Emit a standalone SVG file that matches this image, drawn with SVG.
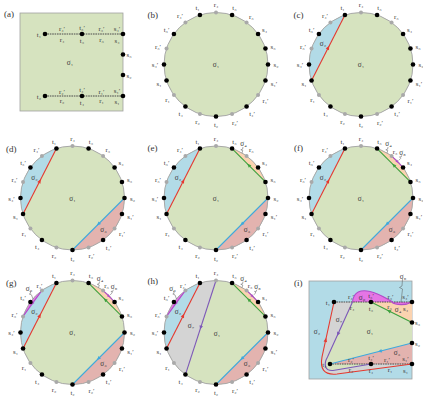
<svg xmlns="http://www.w3.org/2000/svg" xmlns:xlink="http://www.w3.org/1999/xlink" width="423" height="399" viewBox="0 0 423 399">
<style>
text{font-family:"Liberation Serif","DejaVu Serif",serif;fill:#3a3a3a}
.lb{font-size:6.8px;text-anchor:middle;dominant-baseline:central}
.sg{font-size:7.3px;text-anchor:middle;dominant-baseline:central}
.pl{font-size:9px;fill:#333}
.disk{fill:#d6e3bf;stroke:none}
.ring{fill:none;stroke:#a8a8a8;stroke-width:1}
.b{fill:#b2dbe7}.p{fill:#e3b3af}.o{fill:#fbd3b0}.m{fill:#e575e5}.g{fill:#d4d4d4}
.bk{fill:#000}.gr{fill:#a9a9a9}
.cr,.cb,.cg,.cp,.cm{fill:none;stroke-width:1.1}
.cr{stroke:#e5392f}.cb{stroke:#3fa9dc}.cg{stroke:#3ea13e}.cp{stroke:#7d58b8}.cm{stroke:#b04cc8}
.ar{fill:#e5392f}.ab{fill:#3fa9dc}.ag{fill:#3ea13e}.ap{fill:#7d58b8}.am{fill:#b04cc8}
.zz{fill:none;stroke:#555;stroke-width:0.5}
.slit{stroke:#4a4a4a;stroke-width:1;stroke-dasharray:1.6 0.8}
.frame{stroke:#a0a0a0;stroke-width:0.8}
</style>
<defs>
<path id="ah" d="M2.2,0 L-1.8,-1.8 L-1.8,1.8 Z"/>
<g id="dots">
<circle class="gr" cx="0" cy="-52" r="2"/>
<circle class="bk" cx="16.07" cy="-49.46" r="2.3"/>
<circle class="gr" cx="30.57" cy="-42.07" r="2"/>
<circle class="bk" cx="42.07" cy="-30.57" r="2.3"/>
<circle class="bk" cx="49.46" cy="-16.07" r="2.3"/>
<circle class="bk" cx="52" cy="0" r="2.3"/>
<circle class="bk" cx="49.46" cy="16.07" r="2.3"/>
<circle class="gr" cx="42.07" cy="30.57" r="2"/>
<circle class="bk" cx="30.57" cy="42.07" r="2.3"/>
<circle class="gr" cx="16.07" cy="49.46" r="2"/>
<circle class="bk" cx="0" cy="52" r="2.3"/>
<circle class="gr" cx="-16.07" cy="49.46" r="2"/>
<circle class="bk" cx="-30.57" cy="42.07" r="2.3"/>
<circle class="gr" cx="-42.07" cy="30.57" r="2"/>
<circle class="bk" cx="-49.46" cy="16.07" r="2.3"/>
<circle class="bk" cx="-52" cy="0" r="2.3"/>
<circle class="gr" cx="-49.46" cy="-16.07" r="2"/>
<circle class="bk" cx="-42.07" cy="-30.57" r="2.3"/>
<circle class="gr" cx="-30.57" cy="-42.07" r="2"/>
<circle class="bk" cx="-16.07" cy="-49.46" r="2.3"/>
</g>
</defs>
<rect width="423" height="399" fill="#fff"/>

<g id="panel-labels">
<text class="pl" x="4" y="17">(a)</text>
<text class="pl" x="147.5" y="18">(b)</text>
<text class="pl" x="293.5" y="18">(c)</text>
<text class="pl" x="6" y="152">(d)</text>
<text class="pl" x="147.5" y="151">(e)</text>
<text class="pl" x="294" y="151">(f)</text>
<text class="pl" x="6" y="286">(g)</text>
<text class="pl" x="147.5" y="284">(h)</text>
<text class="pl" x="294" y="286">(i)</text>
</g>

<g id="panel-a">
<rect x="20" y="13" width="103" height="98" fill="#d6e3bf" class="frame"/>
<g id="slits-a">
<line class="slit" x1="45" y1="34" x2="123" y2="34"/>
<line class="slit" x1="45" y1="96" x2="123" y2="96"/>
</g>
<circle class="bk" cx="45" cy="34" r="2.3"/><circle class="bk" cx="82" cy="34" r="2.3"/><circle class="bk" cx="123" cy="34" r="2.3"/>
<circle class="bk" cx="123" cy="54.5" r="2.3"/><circle class="bk" cx="123" cy="75" r="2.3"/>
<circle class="bk" cx="45" cy="96" r="2.3"/><circle class="bk" cx="82" cy="96" r="2.3"/><circle class="bk" cx="123" cy="96" r="2.3"/>
<text class="lb" x="39" y="34.5">t₁</text>
<text class="lb" x="62" y="28.5">r₄′</text><text class="lb" x="82" y="27.5">t₃′</text><text class="lb" x="101.5" y="28.5">r₃′</text><text class="lb" x="117" y="28">s₄′</text>
<text class="lb" x="62" y="39">r₄</text><text class="lb" x="82" y="40.5">t₃</text><text class="lb" x="101.5" y="39">r₃</text><text class="lb" x="117" y="40.5">s₄</text>
<text class="lb" x="129" y="54.5">s₃</text><text class="lb" x="129" y="75">s₂</text>
<text class="sg" x="70" y="62.5">σ₁</text>
<text class="lb" x="39" y="96.5">t₂</text>
<text class="lb" x="62" y="91">r₂′</text><text class="lb" x="82" y="89.5">t₄′</text><text class="lb" x="101.5" y="91">r₁′</text><text class="lb" x="117" y="90">s₁′</text>
<text class="lb" x="62" y="100.5">r₂</text><text class="lb" x="82" y="102">t₄</text><text class="lb" x="101.5" y="100.5">r₁</text><text class="lb" x="117" y="101.5">s₁</text>
</g>

<g id="panel-b" transform="translate(216,64.5)">
<circle class="disk" r="52"/><circle class="ring" r="52"/>
<use href="#dots"/>
<text class="lb" x="0" y="-60">r₄</text><text class="lb" x="18.5" y="-57">t₃</text><text class="lb" x="35.3" y="-48.5">r₃</text><text class="lb" x="48.5" y="-35.3">s₄</text><text class="lb" x="57" y="-18.5">s₃</text><text class="lb" x="60" y="0">s₂</text><text class="lb" x="58" y="18.5">s₁′</text><text class="lb" x="49.5" y="35.5">r₁′</text><text class="lb" x="36" y="49">t₄′</text><text class="lb" x="19" y="57.5">r₂′</text><text class="lb" x="0" y="60">t₂</text><text class="lb" x="-18.5" y="57">r₂</text><text class="lb" x="-35.3" y="48.5">t₄</text><text class="lb" x="-48.5" y="35.3">r₁</text><text class="lb" x="-57" y="18.5">s₁</text><text class="lb" x="-61" y="0">s₄′</text><text class="lb" x="-58" y="-18.5">r₃′</text><text class="lb" x="-49.5" y="-35.5">t₃′</text><text class="lb" x="-36" y="-49">r₄′</text><text class="lb" x="-18.5" y="-57">t₁</text>
<text class="sg" x="0" y="0">σ₁</text>
</g>

<g id="panel-c" transform="translate(361,64.5)">
<circle class="disk" r="52"/>
<path class="b" d="M-16.07,-49.46 A52,52 0 0 0 -49.46,16.07 Z"/>
<circle class="ring" r="52"/>
<g id="conn-c"><path class="cr" d="M-16.07,-49.46 L-49.46,16.07"/><use href="#ah" class="ar" transform="translate(-32.8,-16.7) rotate(-63)"/></g>
<use href="#dots"/>
<text class="lb" x="0" y="-60">r₄</text><text class="lb" x="18.5" y="-57">t₃</text><text class="lb" x="35.3" y="-48.5">r₃</text><text class="lb" x="48.5" y="-35.3">s₄</text><text class="lb" x="57" y="-18.5">s₃</text><text class="lb" x="60" y="0">s₂</text><text class="lb" x="58" y="18.5">s₁′</text><text class="lb" x="49.5" y="35.5">r₁′</text><text class="lb" x="36" y="49">t₄′</text><text class="lb" x="19" y="57.5">r₂′</text><text class="lb" x="0" y="60">t₂</text><text class="lb" x="-18.5" y="57">r₂</text><text class="lb" x="-35.3" y="48.5">t₄</text><text class="lb" x="-48.5" y="35.3">r₁</text><text class="lb" x="-57" y="18.5">s₁</text><text class="lb" x="-61" y="0">s₄′</text><text class="lb" x="-58" y="-18.5">r₃′</text><text class="lb" x="-49.5" y="-35.5">t₃′</text><text class="lb" x="-36" y="-49">r₄′</text><text class="lb" x="-18.5" y="-57">t₁</text>
<text class="sg" x="0" y="0">σ₁</text><text class="sg" x="-38" y="-21">σ₂</text>
</g>

<g id="panel-d" transform="translate(72.5,198)">
<circle class="disk" r="52"/>
<path class="b" d="M-16.07,-49.46 A52,52 0 0 0 -49.46,16.07 Z"/>
<path class="p" d="M52,0 A52,52 0 0 1 0,52 Z"/>
<circle class="ring" r="52"/>
<g id="conn-d">
<path class="cr" d="M-16.07,-49.46 L-49.46,16.07"/><use href="#ah" class="ar" transform="translate(-32.8,-16.7) rotate(-63)"/>
<path class="cb" d="M52,0 L0,52"/><use href="#ah" class="ab" transform="translate(26,26) rotate(135)"/>
</g>
<use href="#dots"/>
<text class="lb" x="0" y="-60">r₄</text><text class="lb" x="18.5" y="-57">t₃</text><text class="lb" x="35.3" y="-48.5">r₃</text><text class="lb" x="48.5" y="-35.3">s₄</text><text class="lb" x="57" y="-18.5">s₃</text><text class="lb" x="60" y="0">s₂</text><text class="lb" x="58" y="18.5">s₁′</text><text class="lb" x="49.5" y="35.5">r₁′</text><text class="lb" x="36" y="49">t₄′</text><text class="lb" x="19" y="57.5">r₂′</text><text class="lb" x="0" y="60">t₂</text><text class="lb" x="-18.5" y="57">r₂</text><text class="lb" x="-35.3" y="48.5">t₄</text><text class="lb" x="-48.5" y="35.3">r₁</text><text class="lb" x="-57" y="18.5">s₁</text><text class="lb" x="-61" y="0">s₄′</text><text class="lb" x="-58" y="-18.5">r₃′</text><text class="lb" x="-49.5" y="-35.5">t₃′</text><text class="lb" x="-36" y="-49">r₄′</text><text class="lb" x="-18.5" y="-57">t₁</text>
<text class="sg" x="0" y="0">σ₁</text><text class="sg" x="-38" y="-21">σ₂</text><text class="sg" x="31" y="31">σ₃</text>
</g>

<g id="panel-e" transform="translate(216,198)">
<circle class="disk" r="52"/>
<path class="b" d="M-16.07,-49.46 A52,52 0 0 0 -49.46,16.07 Z"/>
<path class="p" d="M52,0 A52,52 0 0 1 0,52 Z"/>
<path class="o" d="M16.07,-49.46 A52,52 0 0 1 49.46,-16.07 Z"/>
<circle class="ring" r="52"/>
<g id="conn-e">
<path class="cr" d="M-16.07,-49.46 L-49.46,16.07"/><use href="#ah" class="ar" transform="translate(-32.8,-16.7) rotate(-63)"/>
<path class="cb" d="M52,0 L0,52"/><use href="#ah" class="ab" transform="translate(26,26) rotate(135)"/>
<path class="cg" d="M16.07,-49.46 L49.46,-16.07"/><use href="#ah" class="ag" transform="translate(32.8,-32.8) rotate(-135)"/>
</g>
<use href="#dots"/>
<text class="lb" x="0" y="-60">r₄</text><text class="lb" x="18.5" y="-57">t₃</text><text class="lb" x="35.3" y="-48.5">r₃</text><text class="lb" x="48.5" y="-35.3">s₄</text><text class="lb" x="57" y="-18.5">s₃</text><text class="lb" x="60" y="0">s₂</text><text class="lb" x="58" y="18.5">s₁′</text><text class="lb" x="49.5" y="35.5">r₁′</text><text class="lb" x="36" y="49">t₄′</text><text class="lb" x="19" y="57.5">r₂′</text><text class="lb" x="0" y="60">t₂</text><text class="lb" x="-18.5" y="57">r₂</text><text class="lb" x="-35.3" y="48.5">t₄</text><text class="lb" x="-48.5" y="35.3">r₁</text><text class="lb" x="-57" y="18.5">s₁</text><text class="lb" x="-61" y="0">s₄′</text><text class="lb" x="-58" y="-18.5">r₃′</text><text class="lb" x="-49.5" y="-35.5">t₃′</text><text class="lb" x="-36" y="-49">r₄′</text><text class="lb" x="-18.5" y="-57">t₁</text>
<text class="sg" x="0" y="0">σ₁</text><text class="sg" x="-38" y="-21">σ₂</text><text class="sg" x="31" y="31">σ₃</text>
<text class="sg" x="27.5" y="-54.5">σ₄</text><path class="zz" d="M27,-51 L26.6,-48.8 L24.8,-48.2 L26.8,-47.4 L26,-45"/>
</g>

<g id="panel-f" transform="translate(361,198)">
<circle class="disk" r="52"/>
<path class="b" d="M-16.07,-49.46 A52,52 0 0 0 -49.46,16.07 Z"/>
<path class="p" d="M52,0 A52,52 0 0 1 0,52 Z"/>
<path class="o" d="M16.07,-49.46 A52,52 0 0 1 49.46,-16.07 Z"/>
<path class="m" d="M30.57,-42.07 A52,52 0 0 1 42.07,-30.57 Z"/>
<circle class="ring" r="52"/>
<g id="conn-f">
<path class="cr" d="M-16.07,-49.46 L-49.46,16.07"/><use href="#ah" class="ar" transform="translate(-32.8,-16.7) rotate(-63)"/>
<path class="cb" d="M52,0 L0,52"/><use href="#ah" class="ab" transform="translate(26,26) rotate(135)"/>
<path class="cg" d="M16.07,-49.46 L49.46,-16.07"/><use href="#ah" class="ag" transform="translate(32.8,-32.8) rotate(-135)"/>
<path class="cm" d="M30.57,-42.07 L42.07,-30.57"/><use href="#ah" class="am" transform="translate(36.3,-36.3) rotate(45) scale(0.75)"/>
</g>
<use href="#dots"/>
<text class="lb" x="0" y="-60">r₄</text><text class="lb" x="18.5" y="-57">t₃</text><text class="lb" x="34" y="-47">r₃</text><text class="lb" x="48.5" y="-35.3">s₄</text><text class="lb" x="57" y="-18.5">s₃</text><text class="lb" x="60" y="0">s₂</text><text class="lb" x="58" y="18.5">s₁′</text><text class="lb" x="49.5" y="35.5">r₁′</text><text class="lb" x="36" y="49">t₄′</text><text class="lb" x="19" y="57.5">r₂′</text><text class="lb" x="0" y="60">t₂</text><text class="lb" x="-18.5" y="57">r₂</text><text class="lb" x="-35.3" y="48.5">t₄</text><text class="lb" x="-48.5" y="35.3">r₁</text><text class="lb" x="-57" y="18.5">s₁</text><text class="lb" x="-61" y="0">s₄′</text><text class="lb" x="-58" y="-18.5">r₃′</text><text class="lb" x="-49.5" y="-35.5">t₃′</text><text class="lb" x="-36" y="-49">r₄′</text><text class="lb" x="-18.5" y="-57">t₁</text>
<text class="sg" x="0" y="0">σ₁</text><text class="sg" x="-38" y="-21">σ₂</text><text class="sg" x="31" y="31">σ₃</text>
<text class="sg" x="27.5" y="-54.5">σ₄</text><path class="zz" d="M27,-51 L26.6,-48.8 L24.8,-48.2 L26.8,-47.4 L26,-45"/>
<text class="sg" x="41.5" y="-46">σ₅</text><path class="zz" d="M40.8,-42.8 L40.2,-41 L38.6,-41.2 L39.8,-39.6 L37.6,-37.6"/>
</g>

<g id="panel-g" transform="translate(72.5,332.5)">
<circle class="disk" r="52"/>
<path class="b" d="M-16.07,-49.46 A52,52 0 0 0 -49.46,16.07 Z"/>
<path class="p" d="M52,0 A52,52 0 0 1 0,52 Z"/>
<path class="o" d="M16.07,-49.46 A52,52 0 0 1 49.46,-16.07 Z"/>
<path class="m" d="M30.57,-42.07 A52,52 0 0 1 42.07,-30.57 Z"/>
<path class="m" d="M-30.57,-42.07 A52,52 0 0 0 -49.46,-16.07 Z"/>
<circle class="ring" r="52"/>
<g id="conn-g">
<path class="cr" d="M-16.07,-49.46 L-49.46,16.07"/><use href="#ah" class="ar" transform="translate(-32.8,-16.7) rotate(-63)"/>
<path class="cb" d="M52,0 L0,52"/><use href="#ah" class="ab" transform="translate(26,26) rotate(135)"/>
<path class="cg" d="M16.07,-49.46 L49.46,-16.07"/><use href="#ah" class="ag" transform="translate(32.8,-32.8) rotate(-135)"/>
<path class="cm" d="M30.57,-42.07 L42.07,-30.57"/><use href="#ah" class="am" transform="translate(36.3,-36.3) rotate(45) scale(0.75)"/>
<path class="cm" d="M-30.57,-42.07 L-49.46,-16.07"/><use href="#ah" class="am" transform="translate(-40,-29.1) rotate(126) scale(0.75)"/>
</g>
<use href="#dots"/>
<text class="lb" x="0" y="-60">r₄</text><text class="lb" x="18.5" y="-57">t₃</text><text class="lb" x="34" y="-47">r₃</text><text class="lb" x="48.5" y="-35.3">s₄</text><text class="lb" x="57" y="-18.5">s₃</text><text class="lb" x="60" y="0">s₂</text><text class="lb" x="58" y="18.5">s₁′</text><text class="lb" x="49.5" y="35.5">r₁′</text><text class="lb" x="36" y="49">t₄′</text><text class="lb" x="19" y="57.5">r₂′</text><text class="lb" x="0" y="60">t₂</text><text class="lb" x="-18.5" y="57">r₂</text><text class="lb" x="-35.3" y="48.5">t₄</text><text class="lb" x="-48.5" y="35.3">r₁</text><text class="lb" x="-57" y="18.5">s₁</text><text class="lb" x="-61" y="0">s₄′</text><text class="lb" x="-58" y="-18.5">r₃′</text><text class="lb" x="-49.5" y="-35.5">t₃′</text><text class="lb" x="-33" y="-47.5">r₄′</text><text class="lb" x="-18.5" y="-57">t₁</text>
<text class="sg" x="0" y="0">σ₁</text><text class="sg" x="-38" y="-21">σ₂</text><text class="sg" x="31" y="31">σ₃</text>
<text class="sg" x="27.5" y="-54.5">σ₄</text><path class="zz" d="M27,-51 L26.6,-48.8 L24.8,-48.2 L26.8,-47.4 L26,-45"/>
<text class="sg" x="41.5" y="-46">σ₅</text><path class="zz" d="M40.8,-42.8 L40.2,-41 L38.6,-41.2 L39.8,-39.6 L37.6,-37.6"/>
<text class="sg" x="-43.5" y="-44.5">σ₆</text><path class="zz" d="M-42.5,-41.3 L-41.8,-39.3 L-43.2,-38.5 L-41,-37.6 L-39.5,-33.5"/>
</g>

<g id="panel-h" transform="translate(216,332.5)">
<circle class="disk" r="52"/>
<path class="b" d="M-16.07,-49.46 A52,52 0 0 0 -49.46,16.07 Z"/>
<path class="p" d="M52,0 A52,52 0 0 1 0,52 Z"/>
<path class="o" d="M16.07,-49.46 A52,52 0 0 1 49.46,-16.07 Z"/>
<path class="m" d="M30.57,-42.07 A52,52 0 0 1 42.07,-30.57 Z"/>
<path class="m" d="M-30.57,-42.07 A52,52 0 0 0 -49.46,-16.07 Z"/>
<path class="g" d="M-16.07,-49.46 A52,52 0 0 1 0,-52 L-30.57,42.07 A52,52 0 0 1 -49.46,16.07 Z"/>
<circle class="ring" r="52"/>
<g id="conn-h">
<path class="cr" d="M-16.07,-49.46 L-49.46,16.07"/><use href="#ah" class="ar" transform="translate(-32.8,-16.7) rotate(-63)"/>
<path class="cb" d="M52,0 L0,52"/><use href="#ah" class="ab" transform="translate(26,26) rotate(135)"/>
<path class="cg" d="M16.07,-49.46 L49.46,-16.07"/><use href="#ah" class="ag" transform="translate(32.8,-32.8) rotate(-135)"/>
<path class="cm" d="M30.57,-42.07 L42.07,-30.57"/><use href="#ah" class="am" transform="translate(36.3,-36.3) rotate(45) scale(0.75)"/>
<path class="cm" d="M-30.57,-42.07 L-49.46,-16.07"/><use href="#ah" class="am" transform="translate(-40,-29.1) rotate(126) scale(0.75)"/>
<path class="cp" d="M0,-52 L-30.57,42.07"/><use href="#ah" class="ap" transform="translate(-15.3,-5) rotate(108)"/>
</g>
<use href="#dots"/>
<text class="lb" x="0" y="-60">r₄</text><text class="lb" x="18.5" y="-57">t₃</text><text class="lb" x="34" y="-47">r₃</text><text class="lb" x="48.5" y="-35.3">s₄</text><text class="lb" x="57" y="-18.5">s₃</text><text class="lb" x="60" y="0">s₂</text><text class="lb" x="58" y="18.5">s₁′</text><text class="lb" x="49.5" y="35.5">r₁′</text><text class="lb" x="36" y="49">t₄′</text><text class="lb" x="19" y="57.5">r₂′</text><text class="lb" x="0" y="60">t₂</text><text class="lb" x="-18.5" y="57">r₂</text><text class="lb" x="-35.3" y="48.5">t₄</text><text class="lb" x="-48.5" y="35.3">r₁</text><text class="lb" x="-57" y="18.5">s₁</text><text class="lb" x="-61" y="0">s₄′</text><text class="lb" x="-58" y="-18.5">r₃′</text><text class="lb" x="-49.5" y="-35.5">t₃′</text><text class="lb" x="-33" y="-47.5">r₄′</text><text class="lb" x="-18.5" y="-57">t₁</text>
<text class="sg" x="1" y="1">σ₁</text><text class="sg" x="-38" y="-21">σ₂</text><text class="sg" x="31" y="31">σ₃</text><text class="sg" x="-25" y="-7">σ₇</text>
<text class="sg" x="27.5" y="-54.5">σ₄</text><path class="zz" d="M27,-51 L26.6,-48.8 L24.8,-48.2 L26.8,-47.4 L26,-45"/>
<text class="sg" x="41.5" y="-46">σ₅</text><path class="zz" d="M40.8,-42.8 L40.2,-41 L38.6,-41.2 L39.8,-39.6 L37.6,-37.6"/>
<text class="sg" x="-43.5" y="-44.5">σ₆</text><path class="zz" d="M-42.5,-41.3 L-41.8,-39.3 L-43.2,-38.5 L-41,-37.6 L-39.5,-33.5"/>
</g>

<g id="panel-i">
<rect x="309" y="281" width="103" height="98" class="b frame"/>
<path class="g" d="M334,302 L352.5,302 L327.5,357 C323.5,364 324.5,371 333,370.5 L371,364 L412,364 L337,374 C323,375.5 320,368 322,357 Z"/>
<path fill="#d6e3bf" d="M352.5,302 L371,302 L412,322.5 L412,343 L330,364 L371,364 L333,370.5 C324.5,371 323.5,364 327.5,357 Z"/>
<path class="p" d="M412,343 L412,364 L330,364 Z"/>
<path class="o" d="M371,302 L412,302 L412,322.5 Z"/>
<path class="m" d="M352.5,302 C353.5,291.5 361,289.5 370,291.5 C380,293.5 387,299.5 393,302 Z"/>
<path class="m" d="M391.5,302 C396,305.5 406,305.5 412,302 Z"/>
<g id="slits-i">
<line class="slit" x1="334" y1="302" x2="412" y2="302"/>
<line class="slit" x1="330" y1="364" x2="412" y2="364"/>
</g>
<g id="conn-i">
<path class="cm" d="M352.5,302 C353.5,291.5 361,289.5 370,291.5 C380,293.5 387,299.5 393,302"/>
<path class="cm" d="M391.5,302 C396,305.5 406,305.5 412,302"/>
<path class="cr" d="M334,302 L322,357 C320,368 323,375.5 337,374 L412,364"/><use href="#ah" class="ar" transform="translate(325.7,340) rotate(-77.7)"/>
<path class="cp" d="M352.5,302 L327.5,357 C323.5,364 324.5,371 333,370.5 L371,364"/><use href="#ah" class="ap" transform="translate(338,334) rotate(114.4)"/>
<path class="cb" d="M412,343 L330,364"/><use href="#ah" class="ab" transform="translate(380,351.2) rotate(165.6)"/>
<path class="cg" d="M371,302 L412,322.5"/><use href="#ah" class="ag" transform="translate(389,311) rotate(-153.4)"/>
</g>
<circle class="bk" cx="334" cy="302" r="2.3"/><circle class="bk" cx="371" cy="302" r="2.3"/><circle class="bk" cx="412" cy="302" r="2.3"/>
<circle class="bk" cx="412" cy="322.5" r="2.3"/><circle class="bk" cx="412" cy="343" r="2.3"/>
<circle class="bk" cx="330" cy="364" r="2.3"/><circle class="bk" cx="371" cy="364" r="2.3"/><circle class="bk" cx="412" cy="364" r="2.3"/>
<text class="lb" x="328" y="302.5">t₁</text>
<text class="lb" x="351" y="296.5">r₄′</text><text class="lb" x="371" y="295.5">t₃′</text><text class="lb" x="390.5" y="296.5">r₃′</text><text class="lb" x="405.5" y="296">s₄′</text>
<text class="lb" x="352" y="307">r₄</text><text class="lb" x="371" y="308">t₃</text><text class="lb" x="389.5" y="306.5">r₃</text><text class="lb" x="405.5" y="308">s₄</text>
<text class="lb" x="417.5" y="322.5">s₃</text><text class="lb" x="417.5" y="343">s₂</text>
<text class="lb" x="324.5" y="364.5">t₂</text>
<text class="lb" x="351" y="359">r₂′</text><text class="lb" x="371" y="357">t₄′</text><text class="lb" x="387" y="359.5">r₁′</text><text class="lb" x="405.5" y="358">s₁′</text>
<text class="lb" x="351" y="369.5">r₂</text><text class="lb" x="371" y="370.5">t₄</text><text class="lb" x="390" y="369.5">r₁</text><text class="lb" x="405.5" y="370.5">s₁</text>
<text class="sg" x="317" y="331">σ₂</text><text class="sg" x="339" y="319">σ₇</text><text class="sg" x="370" y="331">σ₁</text><text class="sg" x="397" y="352">σ₃</text><text class="sg" x="398" y="309.5">σ₄</text><text class="sg" x="362" y="297.5">σ₆</text>
<text class="sg" x="403" y="276">σ₅</text><path class="zz" d="M402.5,279 L402,286 L399.5,287.5 L402.5,289 L401,302"/>
</g>
</svg>
